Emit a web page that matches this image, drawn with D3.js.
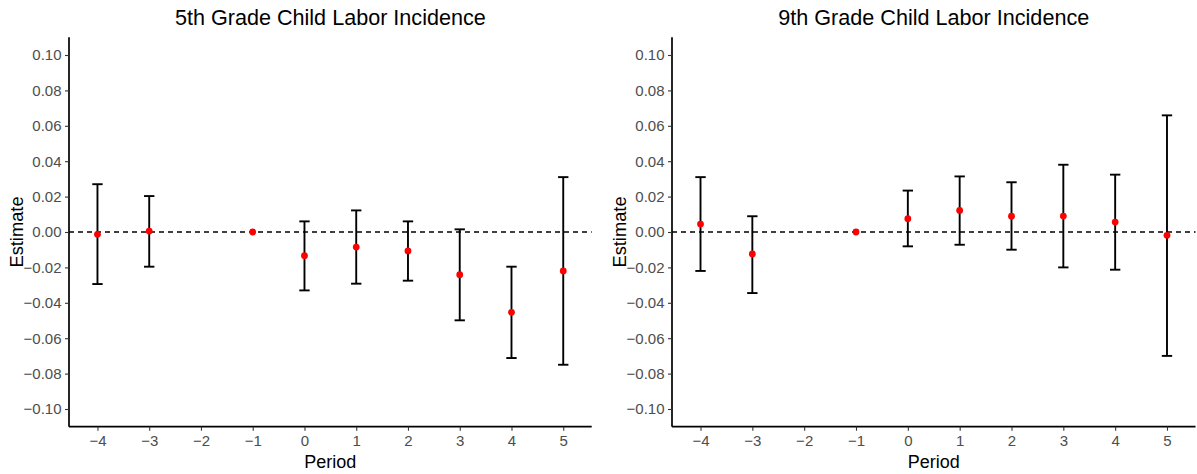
<!DOCTYPE html>
<html>
<head>
<meta charset="utf-8">
<script src="https://cdn.jsdelivr.net/npm/d3@7"></script>
<style>
  html, body { margin: 0; padding: 0; background: #fff; }
  svg { display: block; font-family: "Liberation Sans", Arial, sans-serif; }
</style>
</head>
<body>
<svg id="chart" width="1197" height="474"></svg>
<script>
// Event-study estimates relative to period -1 (the reference period, fixed at 0)
const periods = [-4, -3, -1, 0, 1, 2, 3, 4, 5];
const xTicks = [-4, -3, -2, -1, 0, 1, 2, 3, 4, 5];
const yTicks = [-0.10, -0.08, -0.06, -0.04, -0.02, 0.00, 0.02, 0.04, 0.06, 0.08, 0.10];

// 5th grade
const est5 = [-0.0013, 0.0005, 0, -0.0134, -0.0085, -0.0107, -0.0241, -0.0454, -0.0220];
const lo5  = [-0.0294, -0.0196, null, -0.0330, -0.0292, -0.0275, -0.0499, -0.0712, -0.0750];
const hi5  = [0.0270, 0.0203, null, 0.0060, 0.0122, 0.0060, 0.0015, -0.0196, 0.0310];

// 9th grade
const est9 = [0.0045, -0.0124, 0, 0.0075, 0.0122, 0.0089, 0.0090, 0.0056, -0.0019];
const lo9  = [-0.0220, -0.0345, null, -0.0081, -0.0072, -0.0100, -0.0200, -0.0213, -0.0700];
const hi9  = [0.0310, 0.0089, null, 0.0234, 0.0314, 0.0281, 0.0380, 0.0324, 0.0659];

const titles = ["5th Grade Child Labor Incidence", "9th Grade Child Labor Incidence"];

const svg = d3.select("#chart");
const plotTop = 37.3, plotBottom = 426.7;

function panel(left, right, title, est, lo, hi) {
  const x = d3.scaleLinear().domain([-4.55, 5.55]).range([left, right]);
  const y = d3.scaleLinear().domain([-0.11, 0.11]).range([plotBottom, plotTop]);
  const g = svg.append("g");

  // zero reference line
  g.append("line")
    .attr("x1", left).attr("x2", right)
    .attr("y1", y(0)).attr("y2", y(0))
    .attr("stroke", "#000").attr("stroke-width", 1.5)
    .attr("stroke-dasharray", "5,4");

  const rows = periods.map((p, i) => ({ p, e: est[i], l: lo[i], h: hi[i] }));
  const bars = rows.filter(d => d.l !== null);

  // confidence intervals
  g.selectAll(".ci").data(bars).enter().append("line")
    .attr("x1", d => x(d.p)).attr("x2", d => x(d.p))
    .attr("y1", d => y(d.l)).attr("y2", d => y(d.h))
    .attr("stroke", "#000").attr("stroke-width", 1.9);
  g.selectAll(".capHi").data(bars).enter().append("line")
    .attr("x1", d => x(d.p - 0.1)).attr("x2", d => x(d.p + 0.1))
    .attr("y1", d => y(d.h)).attr("y2", d => y(d.h))
    .attr("stroke", "#000").attr("stroke-width", 1.9);
  g.selectAll(".capLo").data(bars).enter().append("line")
    .attr("x1", d => x(d.p - 0.1)).attr("x2", d => x(d.p + 0.1))
    .attr("y1", d => y(d.l)).attr("y2", d => y(d.l))
    .attr("stroke", "#000").attr("stroke-width", 1.9);

  // point estimates
  g.selectAll(".pt").data(rows).enter().append("circle")
    .attr("cx", d => x(d.p)).attr("cy", d => y(d.e))
    .attr("r", 3.4).attr("fill", "#FF0000");

  // axes
  const fmt = v => d3.format(".2f")(v).replace("-", "\u2212");
  const yAxis = g.append("g").attr("transform", `translate(${left},0)`)
    .call(d3.axisLeft(y).tickValues(yTicks).tickFormat(fmt).tickSize(4).tickPadding(3.5));
  const xAxis = g.append("g").attr("transform", `translate(0,${plotBottom})`)
    .call(d3.axisBottom(x).tickValues(xTicks).tickFormat(v => String(v).replace("-", "\u2212")).tickSize(4).tickPadding(4.5));
  [yAxis, xAxis].forEach(a => {
    a.select(".domain").attr("stroke", "#000").attr("stroke-width", 1.7);
    a.selectAll(".tick line").attr("stroke", "#333").attr("stroke-width", 1.1);
    a.selectAll(".tick text").attr("fill", "#4D4D4D").attr("font-size", 15)
      .attr("font-family", "Liberation Sans, Arial, sans-serif");
  });
  yAxis.select(".domain").attr("d", `M0,${plotTop}V${plotBottom}`);
  xAxis.select(".domain").attr("d", `M${left},0H${right}`);

  // titles
  g.append("text").attr("x", (left + right) / 2).attr("y", 25)
    .attr("text-anchor", "middle").attr("font-size", 21.6).attr("fill", "#000")
    .text(title);
  g.append("text").attr("x", (left + right) / 2).attr("y", 468)
    .attr("text-anchor", "middle").attr("font-size", 18).attr("fill", "#000")
    .text("Period");
  g.append("text")
    .attr("transform", `translate(${left - 46},${(plotTop + plotBottom) / 2}) rotate(-90)`)
    .attr("text-anchor", "middle").attr("font-size", 18.3).attr("fill", "#000")
    .text("Estimate");
}

panel(69, 591.7, titles[0], est5, lo5, hi5);
panel(672, 1195.5, titles[1], est9, lo9, hi9);
</script>
</body>
</html>
